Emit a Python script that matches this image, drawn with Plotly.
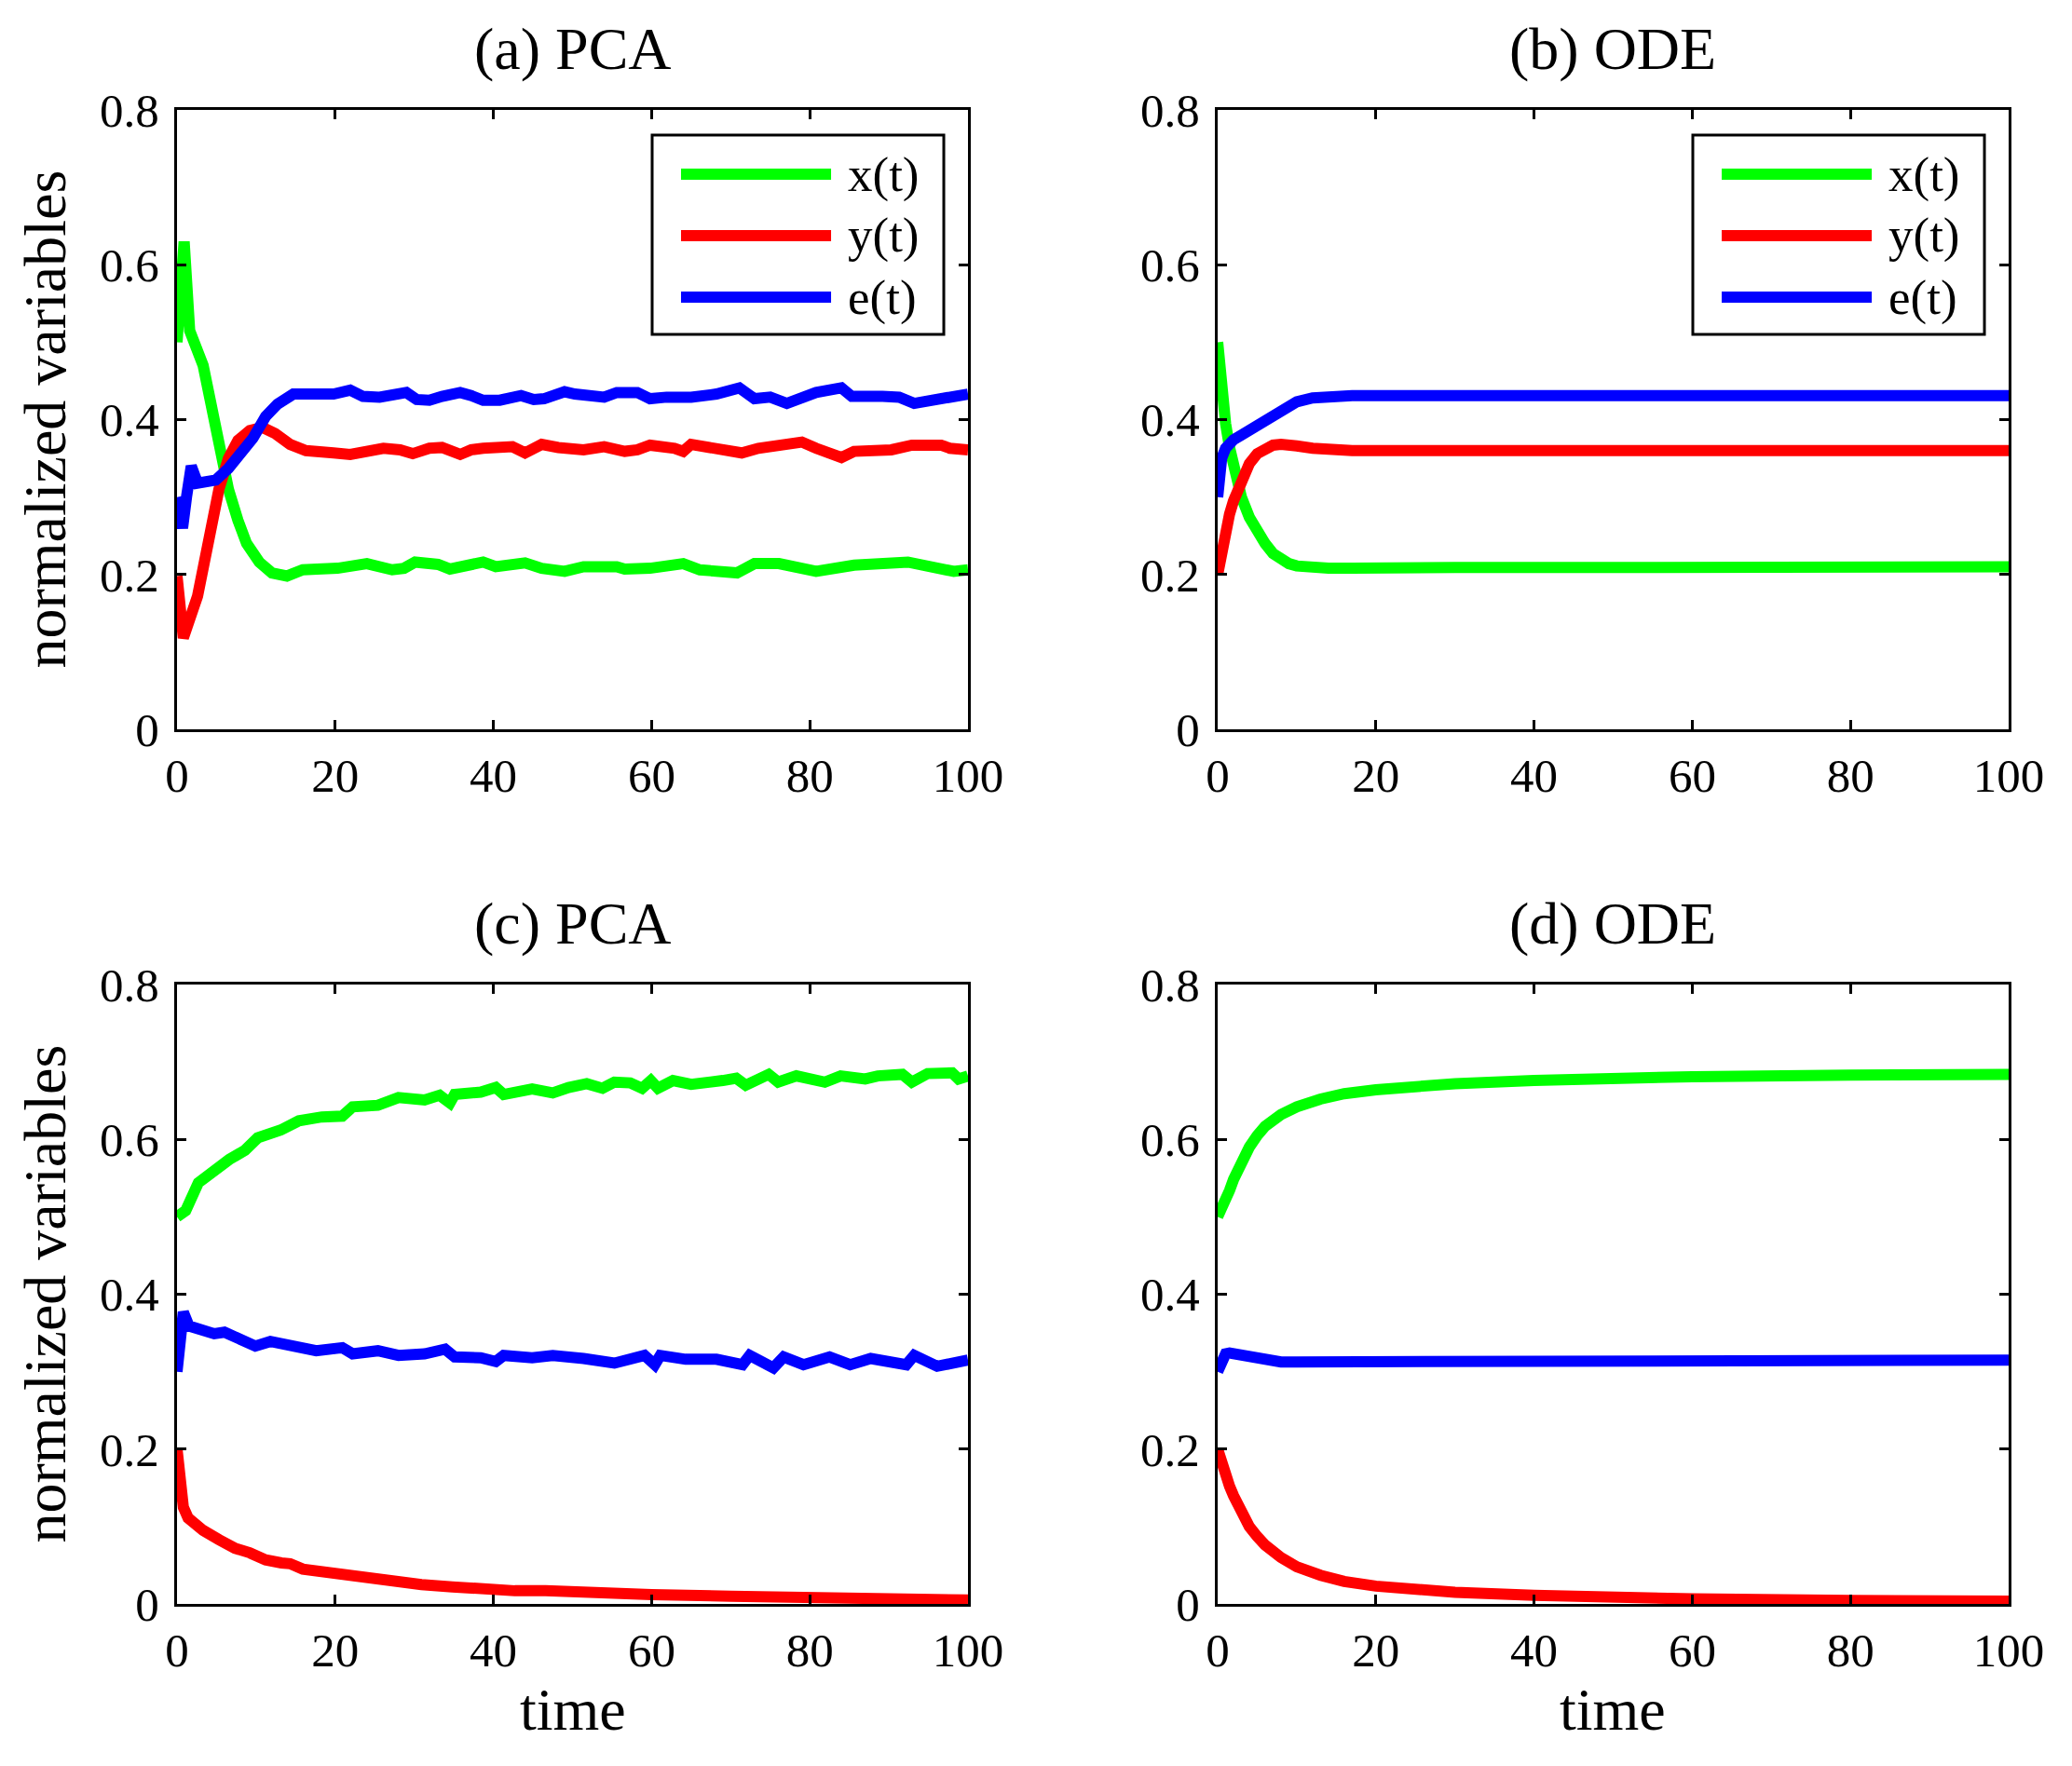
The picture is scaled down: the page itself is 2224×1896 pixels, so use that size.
import plotly.graph_objects as go

# ---------------- data ----------------
# (a) PCA
t_a_x = [0, 0.5, 0.9, 1.6, 2.6, 3.3, 4.1, 5.3, 6.5, 7.7, 8.8, 10.4, 12.0, 13.9, 15.9,
         17.7, 20.3, 24.0, 27.2, 28.7, 30.1, 33.0, 34.5, 38.7, 40.3, 44.0, 46.1, 49.0,
         51.4, 55.6, 56.6, 59.8, 64.0, 66.1, 70.8, 73.0, 76.1, 80.8, 85.6, 92.4, 95.0,
         98.2, 100]
x_a = [0.50, 0.60, 0.63, 0.515, 0.49, 0.47, 0.43, 0.37, 0.31, 0.27, 0.24, 0.216, 0.202,
       0.198, 0.206, 0.207, 0.208, 0.214, 0.206, 0.208, 0.216, 0.213, 0.207, 0.216, 0.210,
       0.215, 0.208, 0.204, 0.210, 0.210, 0.207, 0.208, 0.214, 0.206, 0.202, 0.214, 0.214,
       0.204, 0.212, 0.216, 0.211, 0.204, 0.206]

t_a_y = [0, 0.8, 2.6, 4.1, 5.3, 6.5, 7.7, 9.2, 10.8, 12.4, 14.3, 16.3, 17.7, 19.8, 21.9,
         24.0, 26.1, 28.2, 29.8, 31.9, 33.5, 35.8, 37.2, 38.7, 40.3, 42.4, 44.0, 46.1,
         48.2, 51.4, 54.0, 56.6, 58.2, 59.8, 62.9, 64.0, 65.0, 67.1, 70.3, 71.4, 73.5,
         76.6, 79.0, 80.8, 84.0, 85.6, 90.3, 92.9, 96.6, 97.7, 100]
y_a = [0.198, 0.118, 0.172, 0.25, 0.31, 0.35, 0.373, 0.386, 0.39, 0.382, 0.368, 0.36,
       0.360, 0.357, 0.355, 0.359, 0.363, 0.361, 0.356, 0.363, 0.364, 0.355, 0.361, 0.363,
       0.365, 0.365, 0.357, 0.368, 0.364, 0.361, 0.365, 0.359, 0.361, 0.367, 0.363, 0.359,
       0.368, 0.365, 0.359, 0.357, 0.363, 0.367, 0.371, 0.363, 0.351, 0.359, 0.361, 0.367,
       0.367, 0.363, 0.361]

t_a_e = [0, 0.7, 1.2, 1.8, 2.6, 3.5, 4.9, 6.5, 8.0, 9.6, 11.2, 12.7, 14.7,
         17.7, 19.8, 21.9, 23.5, 25.6, 28.2, 29.0, 30.3, 31.9, 33.5, 35.8, 37.2, 38.7,
         40.8, 42.4, 43.5, 45.1, 46.4, 49.0, 50.3, 54.0, 55.6, 58.2, 59.8, 61.9, 65.0,
         68.2, 71.1, 73.0, 75.0, 77.1, 78.7, 80.8, 84.0, 85.3, 89.2, 91.3, 93.2, 95.0,
         97.7, 100]
e_a = [0.30, 0.26, 0.30, 0.34, 0.318, 0.32, 0.322, 0.337, 0.356, 0.376, 0.404, 0.420, 0.433,
       0.432, 0.433, 0.438, 0.430, 0.429, 0.433, 0.435, 0.426, 0.425, 0.430, 0.435, 0.431,
       0.425, 0.425, 0.427, 0.431, 0.426, 0.427, 0.436, 0.433, 0.429, 0.435, 0.435, 0.427,
       0.429, 0.429, 0.433, 0.441, 0.427, 0.429, 0.421, 0.427, 0.435, 0.441, 0.430, 0.430,
       0.429, 0.421, 0.425, 0.429, 0.433]

# (b) ODE
t_b = [0, 0.5, 1, 1.5, 2, 3, 4, 5, 6, 7, 8, 9, 10, 12, 14, 17, 20, 30, 50, 100]
x_b = [0.500, 0.44, 0.395, 0.364, 0.34, 0.30, 0.274, 0.254, 0.24, 0.227, 0.22, 0.214,
       0.211, 0.209, 0.208, 0.208, 0.209, 0.209, 0.209, 0.21]
y_b = [0.20, 0.232, 0.258, 0.278, 0.295, 0.322, 0.343, 0.356, 0.363, 0.367, 0.368, 0.368,
       0.366, 0.363, 0.361, 0.36, 0.36, 0.36, 0.36, 0.36]
e_b = [0.30, 0.35, 0.363, 0.369, 0.374, 0.380, 0.386, 0.392, 0.399, 0.406, 0.413, 0.419,
       0.423, 0.428, 0.430, 0.431, 0.431, 0.431, 0.431, 0.431]

# (c) PCA
t_c_x = [0, 1.1, 2.7, 4.7, 6.6, 8.6, 10.2, 13.1, 15.4, 18.3, 20.9, 22.2, 25.4, 28.0, 31.3,
         33.2, 34.5, 35.1, 38.4, 40.3, 41.3, 44.9, 47.5, 49.5, 51.8, 53.8, 55.3, 57.3,
         58.8, 59.9, 60.8, 62.7, 65.0, 69.0, 70.7, 71.9, 73.6, 74.8, 76.0, 78.3, 81.9,
         83.9, 87.0, 88.6, 91.7, 92.9, 94.9, 98.0, 98.8, 100]
x_c = [0.50, 0.508, 0.544, 0.560, 0.574, 0.586, 0.602, 0.612, 0.624, 0.629, 0.630, 0.642,
       0.644, 0.654, 0.651, 0.657, 0.647, 0.658, 0.661, 0.667, 0.658, 0.665, 0.660, 0.667,
       0.672, 0.666, 0.674, 0.673, 0.666, 0.676, 0.666, 0.676, 0.671, 0.676, 0.679, 0.670,
       0.678, 0.684, 0.674, 0.682, 0.674, 0.682, 0.678, 0.682, 0.684, 0.674, 0.685, 0.686,
       0.678, 0.682]

t_c_y = [0, 0.3, 0.8, 1.4, 3.3, 5.3, 7.3, 9.2, 11.2, 13.2, 14.3, 15.9, 19.0, 21.0, 23.0,
         27.0, 30.9, 34.8, 38.7, 42.7, 46.6, 50, 60, 70, 80, 90, 100]
y_c = [0.20, 0.17, 0.125, 0.111, 0.095, 0.083, 0.072, 0.066, 0.057, 0.053, 0.052, 0.045,
       0.041, 0.038, 0.033, 0.029, 0.025, 0.022, 0.019, 0.017, 0.017, 0.015, 0.012, 0.010,
       0.008, 0.006, 0.005]

t_c_e = [0, 0.8, 1.5, 2.7, 4.7, 6.0, 7.9, 9.9, 11.8, 15.0, 17.6, 20.9, 22.2, 25.4, 28.0,
         31.3, 33.9, 35.1, 38.4, 40.3, 41.3, 44.9, 47.5, 51.4, 55.3, 59.1, 60.4, 61.1,
         64.3, 68.2, 71.5, 72.4, 75.4, 76.7, 79.2, 82.5, 85.1, 87.7, 92.2, 93.2, 96.1, 100]
e_c = [0.30, 0.377, 0.359, 0.355, 0.349, 0.351, 0.343, 0.333, 0.339, 0.331, 0.327, 0.331,
       0.323, 0.327, 0.321, 0.323, 0.329, 0.319, 0.318, 0.313, 0.321, 0.318, 0.321, 0.317,
       0.311, 0.321, 0.309, 0.321, 0.316, 0.316, 0.309, 0.321, 0.305, 0.319, 0.309, 0.319,
       0.309, 0.317, 0.309, 0.321, 0.307, 0.315]

# (d) ODE
t_d = [0, 0.5, 1, 1.5, 2, 3, 4, 5, 6, 8, 10, 13, 16, 20, 25, 30, 40, 50, 60, 80, 100]
x_d = [0.50, 0.51, 0.52, 0.534, 0.548, 0.572, 0.59, 0.605, 0.617, 0.632, 0.642, 0.652,
       0.659, 0.664, 0.669, 0.672, 0.676, 0.679, 0.681, 0.683, 0.684]
y_d = [0.20, 0.18, 0.165, 0.152, 0.14, 0.118, 0.10, 0.087, 0.076, 0.06, 0.048, 0.037,
       0.029, 0.023, 0.018, 0.015, 0.011, 0.008, 0.0065, 0.0045, 0.0035]
e_d = [0.30, 0.315, 0.323, 0.324, 0.323, 0.320, 0.317, 0.315, 0.314, 0.3125, 0.3125,
       0.3125, 0.3125, 0.3125, 0.313, 0.313, 0.313, 0.313, 0.314, 0.314, 0.315]

panel_titles = ["(a) PCA", "(b) ODE", "(c) PCA", "(d) ODE"]
series_names = ["x(t)", "y(t)", "e(t)"]
x_ticks = [0, 20, 40, 60, 80, 100]
y_ticks = [0, 0.2, 0.4, 0.6, 0.8]
x_label = "time"
y_label = "normalized variables"

# ---------------- style ----------------
W, H = 2224, 1896
OFF = 8  # page body margin compensation
FONT = "Liberation Serif, Times New Roman, serif"
COLORS = ["#00ff00", "#ff0000", "#0000ff"]
LW = 12


def px_x(v):
    return (v - OFF) / W


def px_y(v):
    return 1 - (v - OFF) / H


col_dom = [[px_x(190), px_x(1039)], [px_x(1307), px_x(2156)]]
row_dom = [[px_y(783), px_y(118)], [px_y(1722), px_y(1057)]]

panels = [
    dict(ax=1, series=[(t_a_x, x_a), (t_a_y, y_a), (t_a_e, e_a)], col=0, row=0),
    dict(ax=2, series=[(t_b, x_b), (t_b, y_b), (t_b, e_b)], col=1, row=0),
    dict(ax=3, series=[(t_c_x, x_c), (t_c_y, y_c), (t_c_e, e_c)], col=0, row=1),
    dict(ax=4, series=[(t_d, x_d), (t_d, y_d), (t_d, e_d)], col=1, row=1),
]

fig = go.Figure()
layout = dict(
    template="none",
    width=W, height=H, margin=dict(l=0, r=0, t=0, b=0, pad=0, autoexpand=False),
    paper_bgcolor="white", plot_bgcolor="white", showlegend=False,
    font=dict(family=FONT, color="black"),
)

axis_common = dict(
    showline=True, linecolor="black", linewidth=3, mirror="ticks",
    ticks="inside", ticklen=10, tickwidth=3, tickcolor="black",
    showgrid=False, zeroline=False, automargin=False,
    tickfont=dict(family=FONT, size=51, color="black"),
)

annotations = []
shapes = []

for i, p in enumerate(panels):
    n = p["ax"]
    xa = "x" if n == 1 else f"x{n}"
    ya = "y" if n == 1 else f"y{n}"
    for (tt, vv), c, name in zip(p["series"], COLORS, series_names):
        fig.add_trace(go.Scatter(x=tt, y=vv, mode="lines", name=name,
                                 line=dict(color=c, width=LW),
                                 xaxis=xa, yaxis=ya))
    layout["xaxis" if n == 1 else f"xaxis{n}"] = dict(
        axis_common, domain=col_dom[p["col"]], anchor=ya, range=[0, 100],
        tickvals=x_ticks, ticklabelstandoff=3)
    layout["yaxis" if n == 1 else f"yaxis{n}"] = dict(
        axis_common, domain=row_dom[p["row"]], anchor=xa, range=[0, 0.8],
        tickvals=y_ticks, ticklabelstandoff=6)

    xc = sum(col_dom[p["col"]]) / 2
    ty = px_y(52) if p["row"] == 0 else px_y(991)
    annotations.append(dict(text=panel_titles[i], x=xc, y=ty, xref="paper", yref="paper",
                            showarrow=False, xanchor="center", yanchor="middle",
                            font=dict(family=FONT, size=64, color="black")))
    if p["col"] == 0:
        yc = sum(row_dom[p["row"]]) / 2
        annotations.append(dict(text=y_label, x=px_x(48), y=yc, xref="paper", yref="paper",
                                showarrow=False, textangle=-90, xanchor="center",
                                yanchor="middle", borderpad=0,
                                font=dict(family=FONT, size=64, color="black")))
    if p["row"] == 1:
        annotations.append(dict(text=x_label, x=xc, y=px_y(1835), xref="paper",
                                yref="paper", showarrow=False, xanchor="center",
                                yanchor="middle",
                                font=dict(family=FONT, size=64, color="black")))
    if p["row"] == 0:
        xd = f"{xa} domain"
        yd = f"{ya} domain"
        shapes.append(dict(type="rect", xref=xd, yref=yd, x0=0.6007, x1=0.9694,
                           y0=0.6376, y1=0.9594, line=dict(color="black", width=3),
                           fillcolor="white", layer="above"))
        rows_y = [0.8962, 0.7970, 0.6977]
        for ry, c, name in zip(rows_y, COLORS, series_names):
            shapes.append(dict(type="line", xref=xd, yref=yd, x0=0.6372, x1=0.8269,
                               y0=ry, y1=ry, line=dict(color=c, width=12), layer="above"))
            annotations.append(dict(text=name, x=0.8457, y=ry, xref=xd, yref=yd,
                                    showarrow=False, xanchor="left", yanchor="middle",
                                    font=dict(family=FONT, size=53, color="black")))

layout["annotations"] = annotations
layout["shapes"] = shapes
fig.update_layout(**layout)
fig.write_html("out.html")
